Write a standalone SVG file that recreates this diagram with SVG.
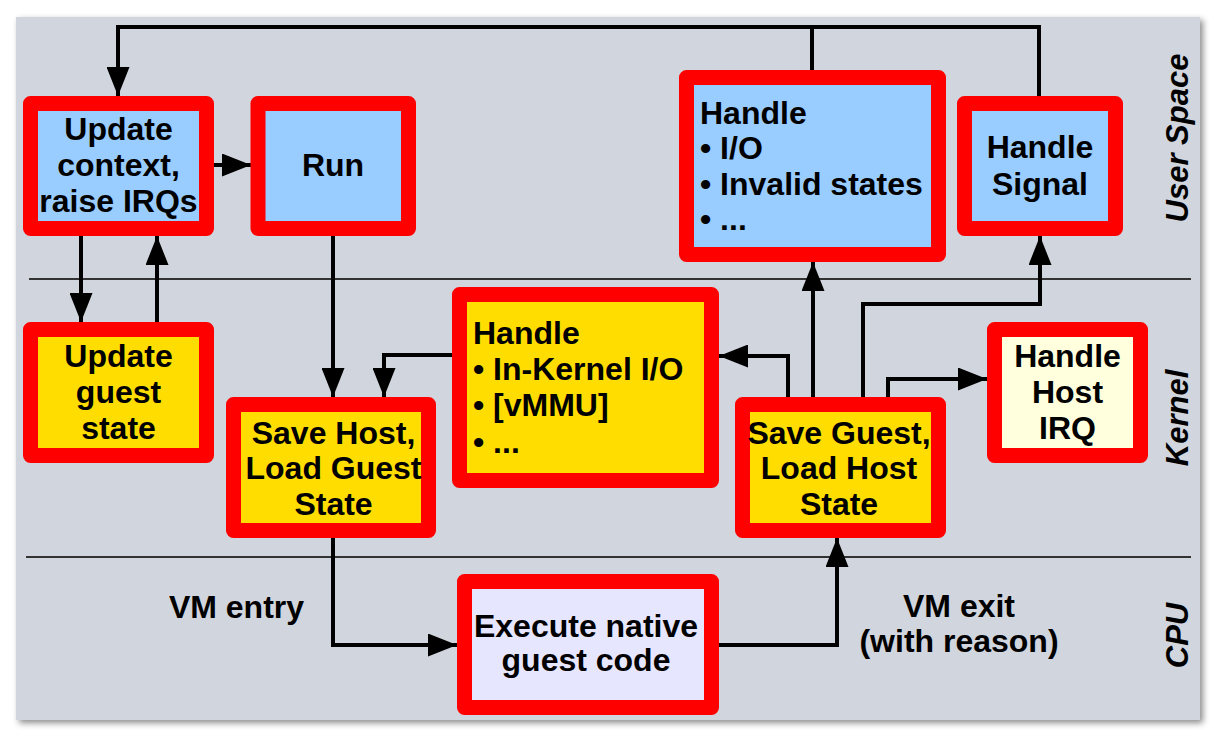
<svg xmlns="http://www.w3.org/2000/svg" width="1225" height="730" viewBox="0 0 1225 730">
  <defs>
    <filter id="shadow" x="-5%" y="-5%" width="110%" height="110%">
      <feDropShadow dx="3" dy="3" stdDeviation="3" flood-color="#000" flood-opacity="0.45"/>
    </filter>
    <marker id="arrow" markerUnits="userSpaceOnUse" markerWidth="29" markerHeight="23" refX="29" refY="11.5" orient="auto">
      <path d="M0,0 L29,11.5 L0,23 Z" fill="#000"/>
    </marker>
    <style>
      .box { stroke: #ff0000; stroke-width: 15; stroke-linejoin: round; }
      .blue { fill: #99ccff; }
      .gold { fill: #ffdd00; }
      .cream { fill: #ffffdd; }
      .lav { fill: #e6e6ff; }
      .t { font-family: "Liberation Sans", Arial, sans-serif; font-weight: bold; font-size: 32px; fill: #000; }
      .c { text-anchor: middle; }
      .side { font-family: "Liberation Sans", Arial, sans-serif; font-weight: bold; font-style: italic; font-size: 31px; fill: #000; text-anchor: middle; }
      .conn { fill: none; stroke: #000; stroke-width: 4; stroke-linejoin: miter; }
      .div { stroke: #333; stroke-width: 2; }
    </style>
  </defs>

  <rect x="0" y="0" width="1225" height="730" fill="#ffffff"/>
  <rect x="16" y="17" width="1184" height="703" fill="#d1d5dd" filter="url(#shadow)"/>

  <g id="dividers">
    <line class="div" x1="29" y1="279" x2="1191" y2="279"/>
    <line class="div" x1="26" y1="557" x2="1191" y2="557"/>
  </g>

  <g id="layer-labels">
    <text class="side" transform="translate(1188,138) rotate(-90)">User Space</text>
    <text class="side" transform="translate(1188,418) rotate(-90)">Kernel</text>
    <text class="side" transform="translate(1188,635.5) rotate(-90)">CPU</text>
  </g>

  <g id="connectors">
    <path class="conn" d="M812,72 V27"/>
    <path class="conn" d="M1039,98 V27 H118 V96" marker-end="url(#arrow)"/>
    <path class="conn" d="M212,165 H251" marker-end="url(#arrow)"/>
    <path class="conn" d="M81,234 V322" marker-end="url(#arrow)"/>
    <path class="conn" d="M157,324 V236" marker-end="url(#arrow)"/>
    <path class="conn" d="M333,234 V397" marker-end="url(#arrow)"/>
    <path class="conn" d="M454,355 H384 V397" marker-end="url(#arrow)"/>
    <path class="conn" d="M788,399 V356 H719" marker-end="url(#arrow)"/>
    <path class="conn" d="M813,399 V262" marker-end="url(#arrow)"/>
    <path class="conn" d="M863,399 V304 H1040 V236" marker-end="url(#arrow)"/>
    <path class="conn" d="M888,399 V379 H987" marker-end="url(#arrow)"/>
    <path class="conn" d="M333,536 V645 H457" marker-end="url(#arrow)"/>
    <path class="conn" d="M717,645 H837 V538" marker-end="url(#arrow)"/>
  </g>

  <g id="label-vm-entry">
    <text class="t c" x="236.5" y="618">VM entry</text>
  </g>
  <g id="label-vm-exit">
    <text class="t c" x="959" y="617">VM exit</text>
    <text class="t c" x="959" y="652">(with reason)</text>
  </g>

  <g id="node-update-context">
    <rect class="box blue" x="30.5" y="103.5" width="176" height="125"/>
    <text class="t c" x="118.5" y="140">Update</text>
    <text class="t c" x="118.5" y="176">context,</text>
    <text class="t c" x="118.5" y="212">raise IRQs</text>
  </g>

  <g id="node-run">
    <rect class="box blue" x="258" y="103.5" width="150.5" height="125"/>
    <text class="t c" x="333" y="176">Run</text>
  </g>

  <g id="node-handle-io">
    <rect class="box blue" x="686.5" y="77.5" width="252" height="177"/>
    <text class="t" x="700" y="124">Handle</text>
    <text class="t" x="700" y="159">• I/O</text>
    <text class="t" x="700" y="195">• Invalid states</text>
    <text class="t" x="700" y="230">• ...</text>
  </g>

  <g id="node-handle-signal">
    <rect class="box blue" x="964.5" y="103.5" width="151" height="125"/>
    <text class="t c" x="1040" y="158">Handle</text>
    <text class="t c" x="1040" y="195">Signal</text>
  </g>

  <g id="node-update-guest">
    <rect class="box gold" x="30.5" y="329.5" width="176" height="126"/>
    <text class="t c" x="118.5" y="367">Update</text>
    <text class="t c" x="118.5" y="403">guest</text>
    <text class="t c" x="118.5" y="439">state</text>
  </g>

  <g id="node-save-host">
    <rect class="box gold" x="233.5" y="404.5" width="195" height="126"/>
    <text class="t c" x="333.5" y="444">Save Host,</text>
    <text class="t c" x="333.5" y="479">Load Guest</text>
    <text class="t c" x="333.5" y="515">State</text>
  </g>

  <g id="node-handle-kernel-io">
    <rect class="box gold" x="459.5" y="294.5" width="252" height="186"/>
    <text class="t" x="473" y="344">Handle</text>
    <text class="t" x="473" y="380">• In-Kernel I/O</text>
    <text class="t" x="473" y="416">• [vMMU]</text>
    <text class="t" x="473" y="453">• ...</text>
  </g>

  <g id="node-save-guest">
    <rect class="box gold" x="742.5" y="404.5" width="196" height="126"/>
    <text class="t c" x="839" y="444">Save Guest,</text>
    <text class="t c" x="839" y="479">Load Host</text>
    <text class="t c" x="839" y="515">State</text>
  </g>

  <g id="node-handle-host-irq">
    <rect class="box cream" x="994.5" y="329.5" width="146" height="126"/>
    <text class="t c" x="1067.5" y="367">Handle</text>
    <text class="t c" x="1067.5" y="403">Host</text>
    <text class="t c" x="1067.5" y="439">IRQ</text>
  </g>

  <g id="node-execute">
    <rect class="box lav" x="464.5" y="581.5" width="247" height="126"/>
    <text class="t c" x="586" y="637">Execute native</text>
    <text class="t c" x="586" y="671">guest code</text>
  </g>
</svg>
